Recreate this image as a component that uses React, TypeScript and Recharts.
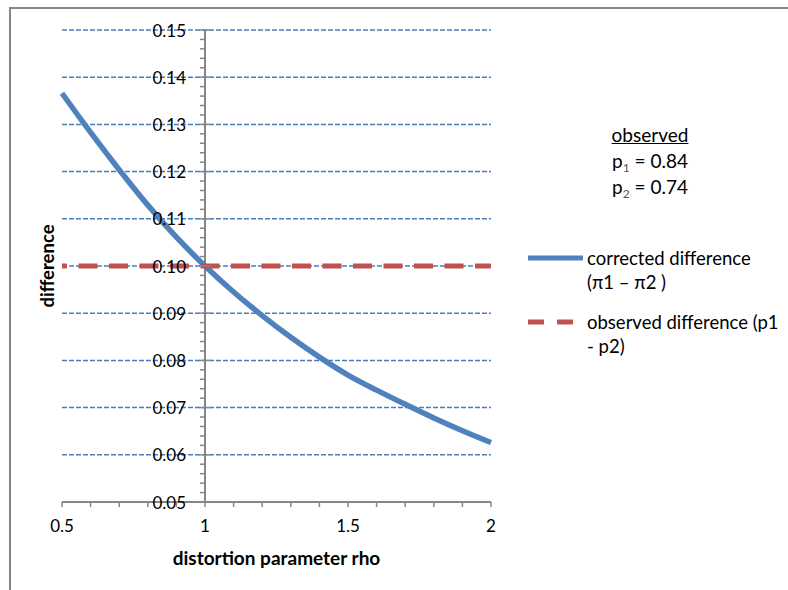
import { LineChart, Line, XAxis, YAxis, ReferenceLine, ReferenceDot, Legend } from "recharts";

const RHO = [0.5, 0.6, 0.7, 0.8, 0.9, 1.0, 1.1, 1.2, 1.3, 1.4, 1.5, 1.6, 1.7, 1.8, 1.9, 2.0];
const CORRECTED = [0.1366, 0.1283, 0.1204, 0.1129, 0.1061, 0.1, 0.0945, 0.0895, 0.0849, 0.0807, 0.0769, 0.0737, 0.0707, 0.0678, 0.0651, 0.0626];
const OBSERVED = [0.1, 0.1, 0.1, 0.1, 0.1, 0.1, 0.1, 0.1, 0.1, 0.1, 0.1, 0.1, 0.1, 0.1, 0.1, 0.1];

const X_TICKS = [0.5, 0.6, 0.7, 0.8, 0.9, 1, 1.1, 1.2, 1.3, 1.4, 1.5, 1.6, 1.7, 1.8, 1.9, 2];
const X_LABELS = [0.5, 1, 1.5, 2];
const Y_MAJOR = [0.05, 0.06, 0.07, 0.08, 0.09, 0.1, 0.11, 0.12, 0.13, 0.14, 0.15];
const GRID = [0.06, 0.07, 0.08, 0.09, 0.1, 0.11, 0.12, 0.13, 0.14, 0.15];
// minor ticks every 0.002 between the majors
const Y_MINOR: number[] = [];
for (let i = 0; i < 50; i++) if (i % 5 !== 0) Y_MINOR.push(Math.round((0.05 + i * 0.002) * 1000) / 1000);

const data = RHO.map((r, i) => ({ rho: r, corrected: CORRECTED[i], observed: OBSERVED[i] }));

const FONT = "Lato, 'Liberation Sans', sans-serif";
const BLUE = "#4f81bd";
const GRID_BLUE = "#4a7ebb";
const RED = "#c0504d";
const AXIS = "#868686";

function LegendBox() {
  return (
    <div style={{ position: "relative", width: 260, height: 120, fontFamily: FONT, fontSize: 18.5, color: "#000" }}>
      <svg width={56} height={10} style={{ position: "absolute", left: 0, top: 8 }}>
        <line x1={0} y1={5} x2={55} y2={5} stroke={BLUE} strokeWidth={5} />
      </svg>
      <div style={{ position: "absolute", left: 59, top: 1, lineHeight: "24px", whiteSpace: "nowrap" }}>
        corrected difference
        <br />
        (π1 – π2 )
      </div>
      <svg width={56} height={10} style={{ position: "absolute", left: 0, top: 72 }}>
        <line x1={0} y1={5} x2={55} y2={5} stroke={RED} strokeWidth={5} strokeDasharray="16 13" />
      </svg>
      <div style={{ position: "absolute", left: 59, top: 65, lineHeight: "24px", whiteSpace: "nowrap" }}>
        observed difference (p1
        <br />- p2)
      </div>
    </div>
  );
}

const subStyle = { fontSize: 12, color: "#555", verticalAlign: "baseline", position: "relative" as const, top: 4, lineHeight: 0 };

export default function App() {
  return (
    <div style={{ position: "absolute", left: 0, top: 0, width: 788, height: 590, background: "#fff", overflow: "hidden" }}>
      <div
        style={{
          position: "absolute",
          left: 9,
          top: 7,
          width: 800,
          height: 600,
          borderLeft: `2px solid ${AXIS}`,
          borderTop: `2px solid ${AXIS}`,
        }}
      />
      <LineChart width={788} height={590} data={data} margin={{ top: 30, right: 297, bottom: 0, left: 7 }}>
        <XAxis
          dataKey="rho"
          type="number"
          domain={[0.5, 2]}
          ticks={X_TICKS}
          interval={0}
          height={88}
          tickSize={5}
          tickMargin={0}
          axisLine={{ stroke: AXIS, strokeWidth: 2 }}
          tickLine={{ stroke: AXIS, strokeWidth: 1.5 }}
          tick={(p: any) =>
            X_LABELS.includes(p.payload.value) ? (
              <text x={p.x} y={p.y + 25} textAnchor="middle" fontSize={17} fontFamily={FONT} fill="#000">
                {p.payload.value}
              </text>
            ) : (
              <g />
            )
          }
          label={{
            content: ({ viewBox }: any) => (
              <text
                x={viewBox.x + viewBox.width / 2}
                y={viewBox.y + 63}
                textAnchor="middle"
                fontSize={19}
                fontWeight="bold"
                fontFamily={FONT}
                fill="#000"
              >
                distortion parameter rho
              </text>
            ),
          }}
        />
        <YAxis
          type="number"
          domain={[0.05, 0.15]}
          width={55}
          tick={false}
          axisLine={false}
          tickLine={false}
          label={{
            content: ({ viewBox }: any) => {
              const cx = viewBox.x + 40;
              const cy = viewBox.y + viewBox.height / 2;
              return (
                <text
                  x={cx}
                  y={cy}
                  transform={`rotate(-90 ${cx} ${cy})`}
                  textAnchor="middle"
                  dominantBaseline="central"
                  fontSize={18.5}
                  fontWeight="bold"
                  fontFamily={FONT}
                  fill="#000"
                >
                  difference
                </text>
              );
            },
          }}
        />
        {GRID.map((v) => (
          <ReferenceLine key={`g${v}`} y={v} stroke={GRID_BLUE} strokeWidth={1.5} strokeDasharray="5 2" />
        ))}
        <ReferenceLine x={1} stroke={AXIS} strokeWidth={2} />
        {Y_MINOR.map((v) => (
          <ReferenceDot
            key={`m${v}`}
            x={1}
            y={v}
            shape={(p: any) => <line x1={p.cx - 5} y1={p.cy} x2={p.cx} y2={p.cy} stroke={AXIS} strokeWidth={1.5} />}
          />
        ))}
        {Y_MAJOR.map((v) => (
          <ReferenceDot
            key={`M${v}`}
            x={1}
            y={v}
            shape={(p: any) => (
              <g>
                <line x1={p.cx - 6} y1={p.cy} x2={p.cx + 6} y2={p.cy} stroke={AXIS} strokeWidth={1.5} />
                <text
                  x={p.cx - 19}
                  y={p.cy}
                  textAnchor="end"
                  dominantBaseline="central"
                  fontSize={17}
                  fontFamily={FONT}
                  fill="#000"
                >
                  {v.toFixed(2)}
                </text>
              </g>
            )}
          />
        ))}
        <Line
          type="monotone"
          dataKey="corrected"
          stroke={BLUE}
          strokeWidth={5.5}
          dot={false}
          isAnimationActive={false}
        />
        <Line
          type="monotone"
          dataKey="observed"
          stroke={RED}
          strokeWidth={5}
          strokeDasharray="19 11.5"
          strokeDashoffset={14}
          dot={false}
          isAnimationActive={false}
        />
        <Legend
          layout="horizontal"
          align="center"
          verticalAlign="middle"
          wrapperStyle={{ left: 528, top: 245, width: 260 }}
          content={() => <LegendBox />}
        />
      </LineChart>
      <div
        style={{
          position: "absolute",
          left: 575,
          top: 122,
          width: 150,
          textAlign: "center",
          fontFamily: FONT,
          fontSize: 19,
          lineHeight: "26px",
          color: "#000",
        }}
      >
        <div style={{ textDecoration: "underline" }}>observed</div>
        <div>
          p<span style={subStyle}>1</span> = 0.84
        </div>
        <div>
          p<span style={subStyle}>2</span> = 0.74
        </div>
      </div>
    </div>
  );
}
